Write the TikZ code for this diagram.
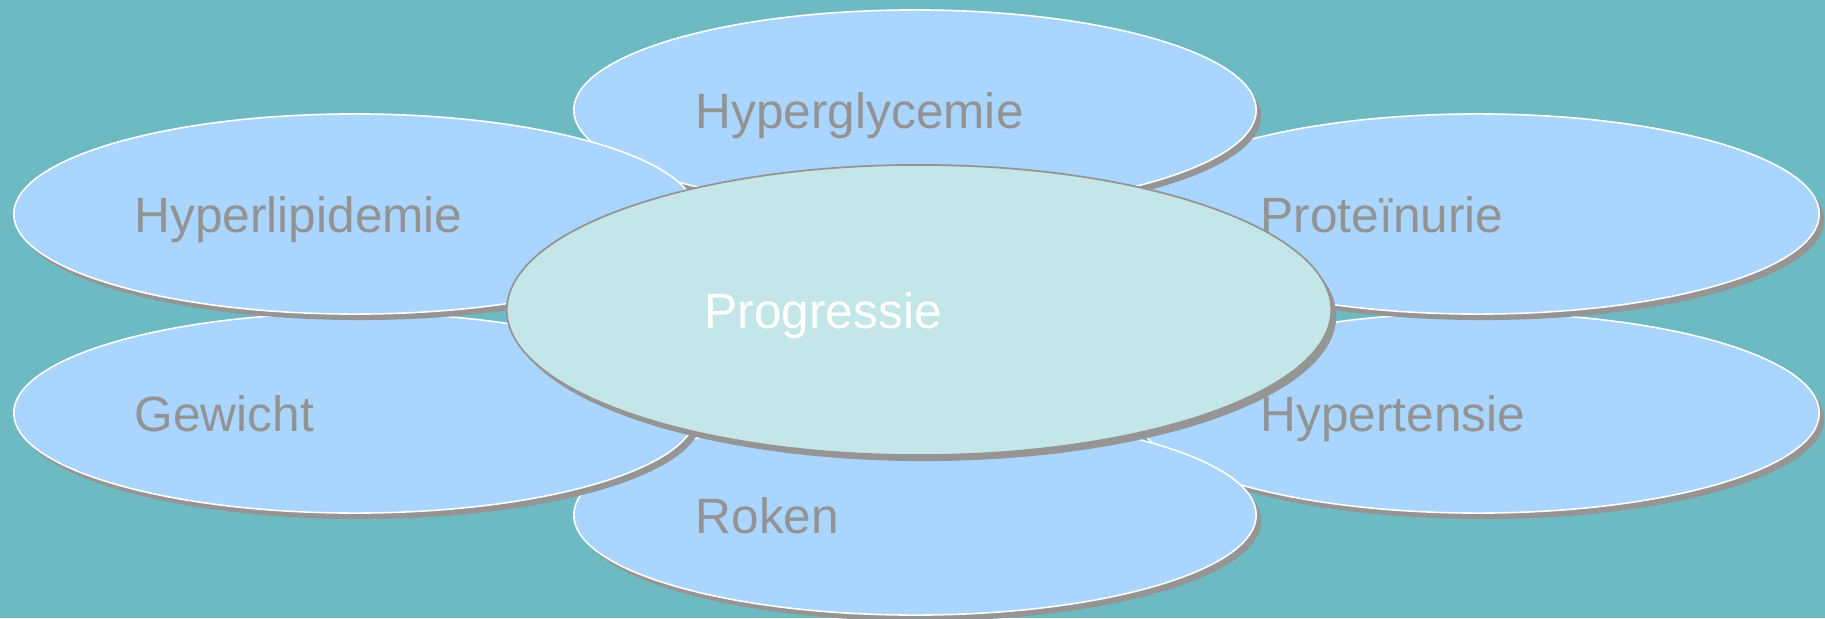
\documentclass[tikz,border=0pt]{standalone}
\usepackage{fontspec}
\setmainfont{Liberation Sans}
\usetikzlibrary{shapes.geometric, shadows}

\definecolor{bgteal}{HTML}{6DBAC3}
\definecolor{petalblue}{HTML}{A9D5FE}
\definecolor{corefill}{HTML}{C5E6E8}
\definecolor{shadowgray}{HTML}{959595}
\definecolor{labelgray}{HTML}{939393}

\begin{document}
\begin{tikzpicture}[x=0.01cm, y=-0.01cm,
    petal/.style={ellipse, draw=white, line width=0.45pt, fill=petalblue,
      minimum width=6.82cm, minimum height=2.0cm, inner sep=0pt,
      drop shadow={shadow xshift=0.5mm, shadow yshift=-0.6mm, fill=shadowgray, opacity=1}},
    core/.style={ellipse, draw=shadowgray, line width=0.5pt, fill=corefill,
      minimum width=8.24cm, minimum height=2.9cm, inner sep=0pt,
      drop shadow={shadow xshift=0.5mm, shadow yshift=-0.6mm, fill=shadowgray, opacity=1}},
    petaltext/.style={anchor=base west, inner sep=0pt, text=labelgray,
      font=\fontsize{14.1}{17}\selectfont}]
      \fill[bgteal] (0,0) rectangle (1825,618);
      \useasboundingbox (0,0) rectangle (1825,618);

      \node[petal](tension)  at (1478,413) {};
      \node[petaltext](tensionl)  at (1260,431) {Hypertensie};
      \node[petal](roken)  at (915,515) {};
      \node[petaltext](rokenl)  at (695,533) {Roken};
      \node[petal](gewicht)  at (355,413) {};
      \node[petaltext](gewichtl)  at (134,431) {Gewicht};
      \node[petal](eiwit)  at (1478,214) {};
      \node[petaltext](eiwitl)  at (1260,232) {Proteïnurie};
      \node[petal](glyc)  at (915,110) {};
      \node[petaltext](glycl)  at (695,128) {Hyperglycemie};
      \node[petal](lipid)  at (355,214) {};
      \node[petaltext](lipidl)  at (134,232) {Hyperlipidemie};

      \node[core](prog)  at (919,310) {};
      \node[petaltext, text=white](progl)  at (704,328) {Progressie};
\end{tikzpicture}
\end{document}
